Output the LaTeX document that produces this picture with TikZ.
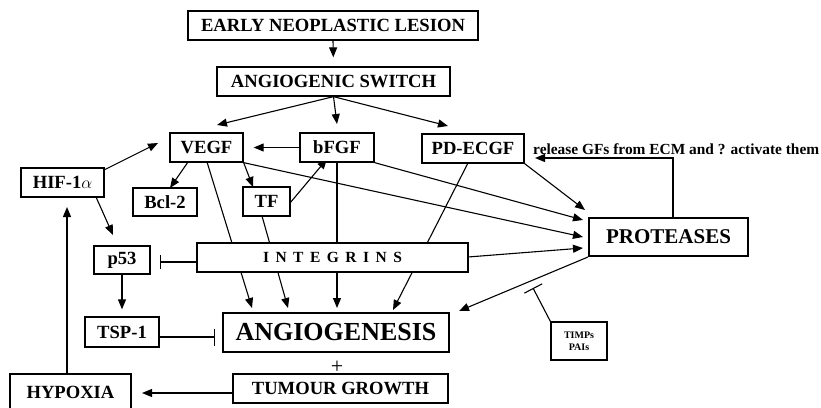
\documentclass[tikz,border=0pt]{standalone}
\usepackage{fontspec}
\setmainfont{Liberation Serif}
\usetikzlibrary{arrows.meta,calc}
\pgfdeclarelayer{bg}
\pgfsetlayers{bg,main}
\begin{document}
\begin{tikzpicture}[x=1pt,y=-1pt,
  box/.style={draw,line width=1.3pt,inner sep=0pt,fill=white,font=\fontsize{18.6}{22}\selectfont\bfseries},
  arr/.style={line width=1.1pt,-{Triangle[length=10pt,width=8pt]}},
  inh/.style={line width=1.1pt,-{Bar[width=#1,line width=1.1pt]}},
  ln/.style={line width=1.1pt}]
\useasboundingbox (0,0) rectangle (821,407);
% nodes
\node[box,minimum width=290pt,minimum height=29pt] (enl) at (333,25.5) {EARLY NEOPLASTIC LESION};
\node[box,minimum width=233pt,minimum height=29pt] (sw) at (333.5,81.5) {ANGIOGENIC SWITCH};
\node[box,minimum width=73pt,minimum height=29pt] (vegf) at (206.5,147.5) {VEGF};
\node[box,minimum width=74pt,minimum height=29pt] (bfgf) at (337,147.5) {bFGF};
\node[box,minimum width=102pt,minimum height=29pt] (pd) at (473,148.5) {PD-ECGF};
\node[box,minimum width=83pt,minimum height=29pt] (hif) at (62.5,182.5) {HIF-1$\alpha$};
\node[box,minimum width=64pt,minimum height=28pt] (bcl) at (165,202) {Bcl-2};
\node[box,minimum width=47pt,minimum height=29pt] (tf) at (266.5,201.5) {TF};
\node[box,minimum width=56pt,minimum height=28pt] (p53) at (122,260) {p53};
\node[box,minimum width=271pt,minimum height=29pt,font=\fontsize{15.5}{18}\selectfont\bfseries] (integ) at (332.5,257.5)
  {I\hspace{6.5pt}N\hspace{6.5pt}T\hspace{6.5pt}E\hspace{6.5pt}G\hspace{6.5pt}R\hspace{6.5pt}I\hspace{6.5pt}N\hspace{6.5pt}S};
\node[box,minimum width=159pt,minimum height=38pt,font=\fontsize{21}{25}\selectfont\bfseries] (prot) at (668.5,237) {PROTEASES};
\node[box,minimum width=226pt,minimum height=39pt,font=\fontsize{26}{30}\selectfont\bfseries] (ang) at (336,332.5) {ANGIOGENESIS};
\node[box,minimum width=74pt,minimum height=30pt] (tsp) at (122,332) {TSP-1};
\node[box,minimum width=215pt,minimum height=29pt] (tg) at (340.5,388.5) {TUMOUR GROWTH};
\node[box,minimum width=121pt,minimum height=36pt] (hyp) at (70.5,392) {HYPOXIA};
\node[box,minimum width=56pt,minimum height=38pt,align=center,font=\fontsize{10}{12}\selectfont\bfseries] (timps) at (579,341) {TIMPs\\PAIs};
\node[font=\fontsize{22}{24}\selectfont] (plus) at (337,367) {+};
\node[anchor=base west,inner sep=0pt,font=\fontsize{15.4}{18}\selectfont\bfseries] (rel) at (533,154) {release GFs from ECM and ? activate them};
% coordinates
\coordinate (tvegf) at (217,125);
\coordinate (tbfgf) at (337,124);
\coordinate (tpd) at (448,126);
\coordinate (hifa) at (104,170);
\coordinate (hifv) at (158,143);
\coordinate (hifb) at (96,197);
\coordinate (tp53) at (113,235);
\coordinate (vb) at (188,162);
\coordinate (tbcl) at (170,188);
\coordinate (ttf) at (253,187);
\coordinate (tfa) at (290,203);
\coordinate (tfb) at (327,159);
\coordinate (va) at (207,162);
\coordinate (ta1) at (252,308);
\coordinate (tfc) at (262,216);
\coordinate (ta2) at (288,308);
\coordinate (ta3) at (337,308);
\coordinate (pda) at (468,163);
\coordinate (ta4) at (393,310);
\coordinate (tp1) at (585,210);
\coordinate (tp2) at (583,220);
\coordinate (tp3) at (583,237);
\coordinate (tp4) at (583,248);
\coordinate (ia) at (468,257);
\coordinate (ib) at (197,262);
\coordinate (tib) at (160,262);
\coordinate (tspa) at (159,337);
\coordinate (ttsp) at (215,337);
\coordinate (pra) at (588,257);
\coordinate (ta5) at (459,311);
\coordinate (tmb) at (533,288);
\coordinate (tga) at (233,393);
\coordinate (thyp) at (142,393);
\coordinate (hypa) at (67,374);
\coordinate (thif) at (67,207);
\coordinate (fb1) at (673,218);
\coordinate (fb2) at (673,158);
\coordinate (tfb2) at (535,158);
% connectors
\begin{pgfonlayer}{bg}
\draw[arr,shorten >=9pt] (enl.south) -- (sw.north);
\draw[arr] (sw.south) -- (tvegf);
\draw[arr] (sw.south) -- (tbfgf);
\draw[arr] (sw.south) -- (tpd);
\draw[arr,shorten >=10pt] (bfgf.west) -- (vegf.east);
\draw[arr] (hifa) -- (hifv);
\draw[arr] (hifb) -- (tp53);
\draw[arr] (vb) -- (tbcl);
\draw[arr] (vegf.south east) -- (ttf);
\draw[arr] (tfa) -- (tfb);
\draw[arr] (va) -- (ta1);
\draw[arr] (tfc) -- (ta2);
\draw[arr] (bfgf.south) -- (ta3);
\draw[arr] (pda) -- (ta4);
\draw[arr] (pd.south east) -- (tp1);
\draw[arr] (bfgf.south east) -- (tp2);
\draw[arr] (vegf.south east) -- (tp3);
\draw[arr] (ia) -- (tp4);
\draw[inh=14pt] (ib) -- (tib);
\draw[arr,shorten >=7pt] (p53.south) -- (tsp.north);
\draw[inh=17pt] (tspa) -- (ttsp);
\draw[arr] (pra) -- (ta5);
\draw[inh=20pt] (timps.north west) -- (tmb);
\draw[arr] (tga) -- (thyp);
\draw[arr] (hypa) -- (thif);
\draw[arr] (fb1) -- (fb2) -- (tfb2);
\end{pgfonlayer}
\end{tikzpicture}
\end{document}
